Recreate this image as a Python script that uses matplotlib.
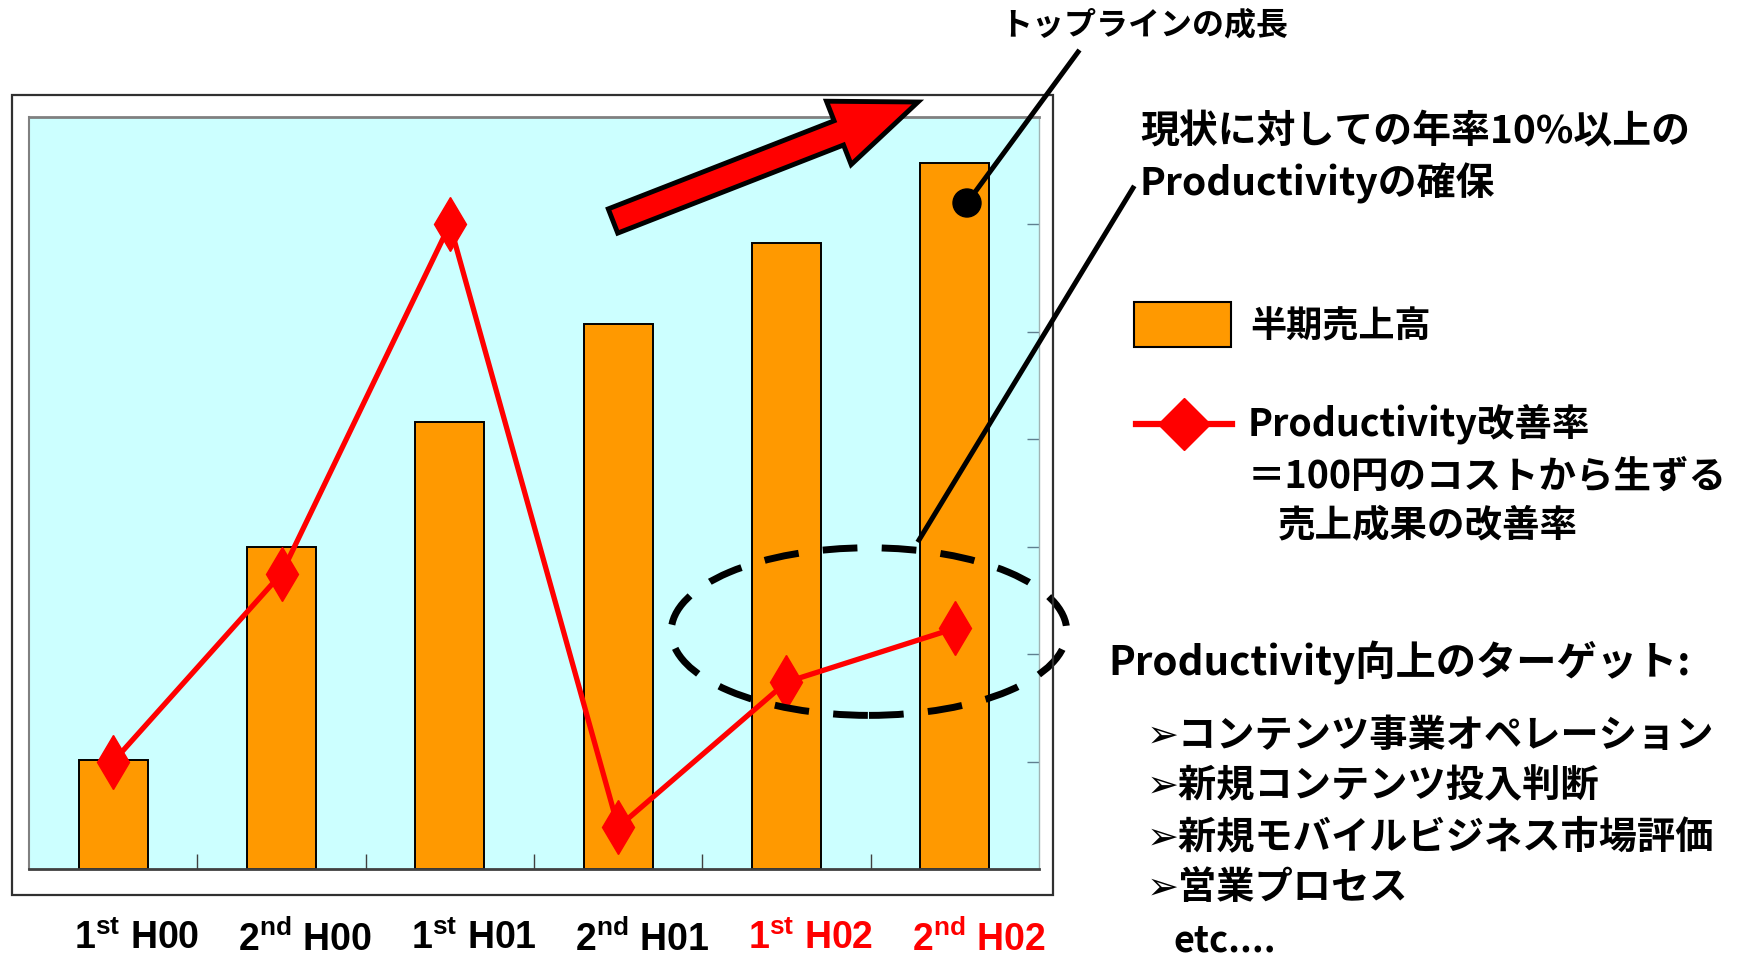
import matplotlib
matplotlib.use('Agg')
import matplotlib.pyplot as plt
from matplotlib.patches import Rectangle, Ellipse, FancyArrow, Circle
from matplotlib.lines import Line2D
from matplotlib.transforms import ScaledTranslation

plt.rcParams['font.family'] = ['Noto Sans CJK JP', 'DejaVu Sans']
plt.rcParams['mathtext.fontset'] = 'custom'
plt.rcParams['mathtext.rm'] = 'Liberation Sans:bold'

# data (axis units 0..7, no scale shown)
periods = ['1$^{\\mathrm{st}}$ H00', '2$^{\\mathrm{nd}}$ H00', '1$^{\\mathrm{st}}$ H01',
           '2$^{\\mathrm{nd}}$ H01', '1$^{\\mathrm{st}}$ H02', '2$^{\\mathrm{nd}}$ H02']
period_colors = ['black', 'black', 'black', 'black', 'red', 'red']
sales = [1.01, 3.0, 4.16, 5.07, 5.83, 6.57]
productivity = [1.0, 2.75, 6.0, 0.39, 1.74, 2.24]

targets = ['➢コンテンツ事業オペレーション', '➢新規コンテンツ投入判断',
           '➢新規モバイルビジネス市場評価', '➢営業プロセス']

W, H = 1755, 957
fig = plt.figure(figsize=(W / 100, H / 100), dpi=100)

# main chart
ax = fig.add_axes([29 / W, 1 - 869 / H, 1010 / W, 752 / H])
ax.set_facecolor('#CCFFFF')
x = list(range(len(sales)))
ax.bar(x, sales, width=0.41, color='#FF9900', edgecolor='black', linewidth=1.4, zorder=2)
ax.plot(x, productivity, color='red', lw=3.8, marker='d', ms=27, mfc='red', mec='red', zorder=3)
ax.set_xlim(-0.5, 5.5)
ax.set_ylim(0, 7)

ax.yaxis.tick_right()
ax.set_yticks(range(1, 7))
ax.tick_params(axis='y', direction='in', length=9, width=1, color='#5f7f8f', labelright=False)
ax.set_xticks([i + 0.5 for i in range(5)])
ax.tick_params(axis='x', which='major', direction='in', length=11, width=1, color='#404040', labelbottom=False)
ax.set_xticks(x, minor=True)
ax.set_xticklabels(periods, minor=True)
ax.tick_params(axis='x', which='minor', length=0, pad=37)
shift = ScaledTranslation(0.24, 0, fig.dpi_scale_trans)
for lab, c in zip(ax.get_xticklabels(minor=True), period_colors):
    lab.set_color(c)
    lab.set_fontsize(27)
    lab.set_fontweight('bold')
    lab.set_family('Liberation Sans')
    lab.set_transform(lab.get_transform() + shift)

ax.spines['top'].set_color('#808080')
ax.spines['top'].set_linewidth(2)
ax.spines['left'].set_color('#808080')
ax.spines['left'].set_linewidth(1.5)
ax.spines['bottom'].set_color('#404040')
ax.spines['bottom'].set_linewidth(2)
ax.spines['right'].set_color('#a0b4b4')
ax.spines['right'].set_linewidth(1)

# dashed ellipse around the last two periods
ax.add_patch(Ellipse((4.49, 2.21), 2.35, 1.56, fill=False, ec='black', lw=5,
                     linestyle=(0, (5, 3.5)), clip_on=False, zorder=4))

# overlay in pixel coordinates for callouts and texts
ov = fig.add_axes([0, 0, 1, 1])
ov.set_xlim(0, W)
ov.set_ylim(H, 0)
ov.axis('off')
ov.set_zorder(5)

ov.add_patch(Rectangle((12, 95), 1041, 800, fill=False, ec='#303030', lw=1.6))

ov.add_patch(FancyArrow(613, 221, 305, -119, width=26, head_width=68, head_length=85,
                        length_includes_head=True, fc='red', ec='black', lw=3.5))

ov.add_line(Line2D([1078, 967], [52, 203], color='black', lw=3.6))
ov.add_patch(Circle((967, 203), 14, color='black'))
ov.add_line(Line2D([1133, 919], [188, 540], color='black', lw=3.6))

ov.text(1144, 25, 'トップラインの成長', ha='center', va='center', fontsize=23, fontweight='bold')
ov.text(1140, 132, '現状に対しての年率10%以上の', ha='left', va='center', fontsize=28, fontweight='bold')
ov.text(1140, 183, 'Productivityの確保', ha='left', va='center', fontsize=28, fontweight='bold')

# legend
ov.add_patch(Rectangle((1134, 302), 97, 45, fc='#FF9900', ec='black', lw=1.5))
ov.text(1250, 327, '半期売上高', ha='left', va='center', fontsize=26, fontweight='bold')
ov.add_line(Line2D([1136, 1232], [424, 424], color='red', lw=4.5))
ov.add_line(Line2D([1184], [424], marker='D', ms=26, color='red', mec='red'))
ov.text(1248, 424, 'Productivity改善率', ha='left', va='center', fontsize=27, fontweight='bold')
ov.text(1248, 476, '＝100円のコストから生ずる', ha='left', va='center', fontsize=27, fontweight='bold')
ov.text(1278, 525, '売上成果の改善率', ha='left', va='center', fontsize=27, fontweight='bold')

# targets
ov.text(1108, 663, 'Productivity向上のターゲット:', ha='left', va='center', fontsize=29, fontweight='bold')
for i, t in enumerate(targets):
    ov.text(1147, 735 + i * 51, t, ha='left', va='center', fontsize=27.5, fontweight='bold')
ov.text(1173, 941, 'etc....', ha='left', va='center', fontsize=26, fontweight='bold')

fig.savefig('out.png', dpi=100)
